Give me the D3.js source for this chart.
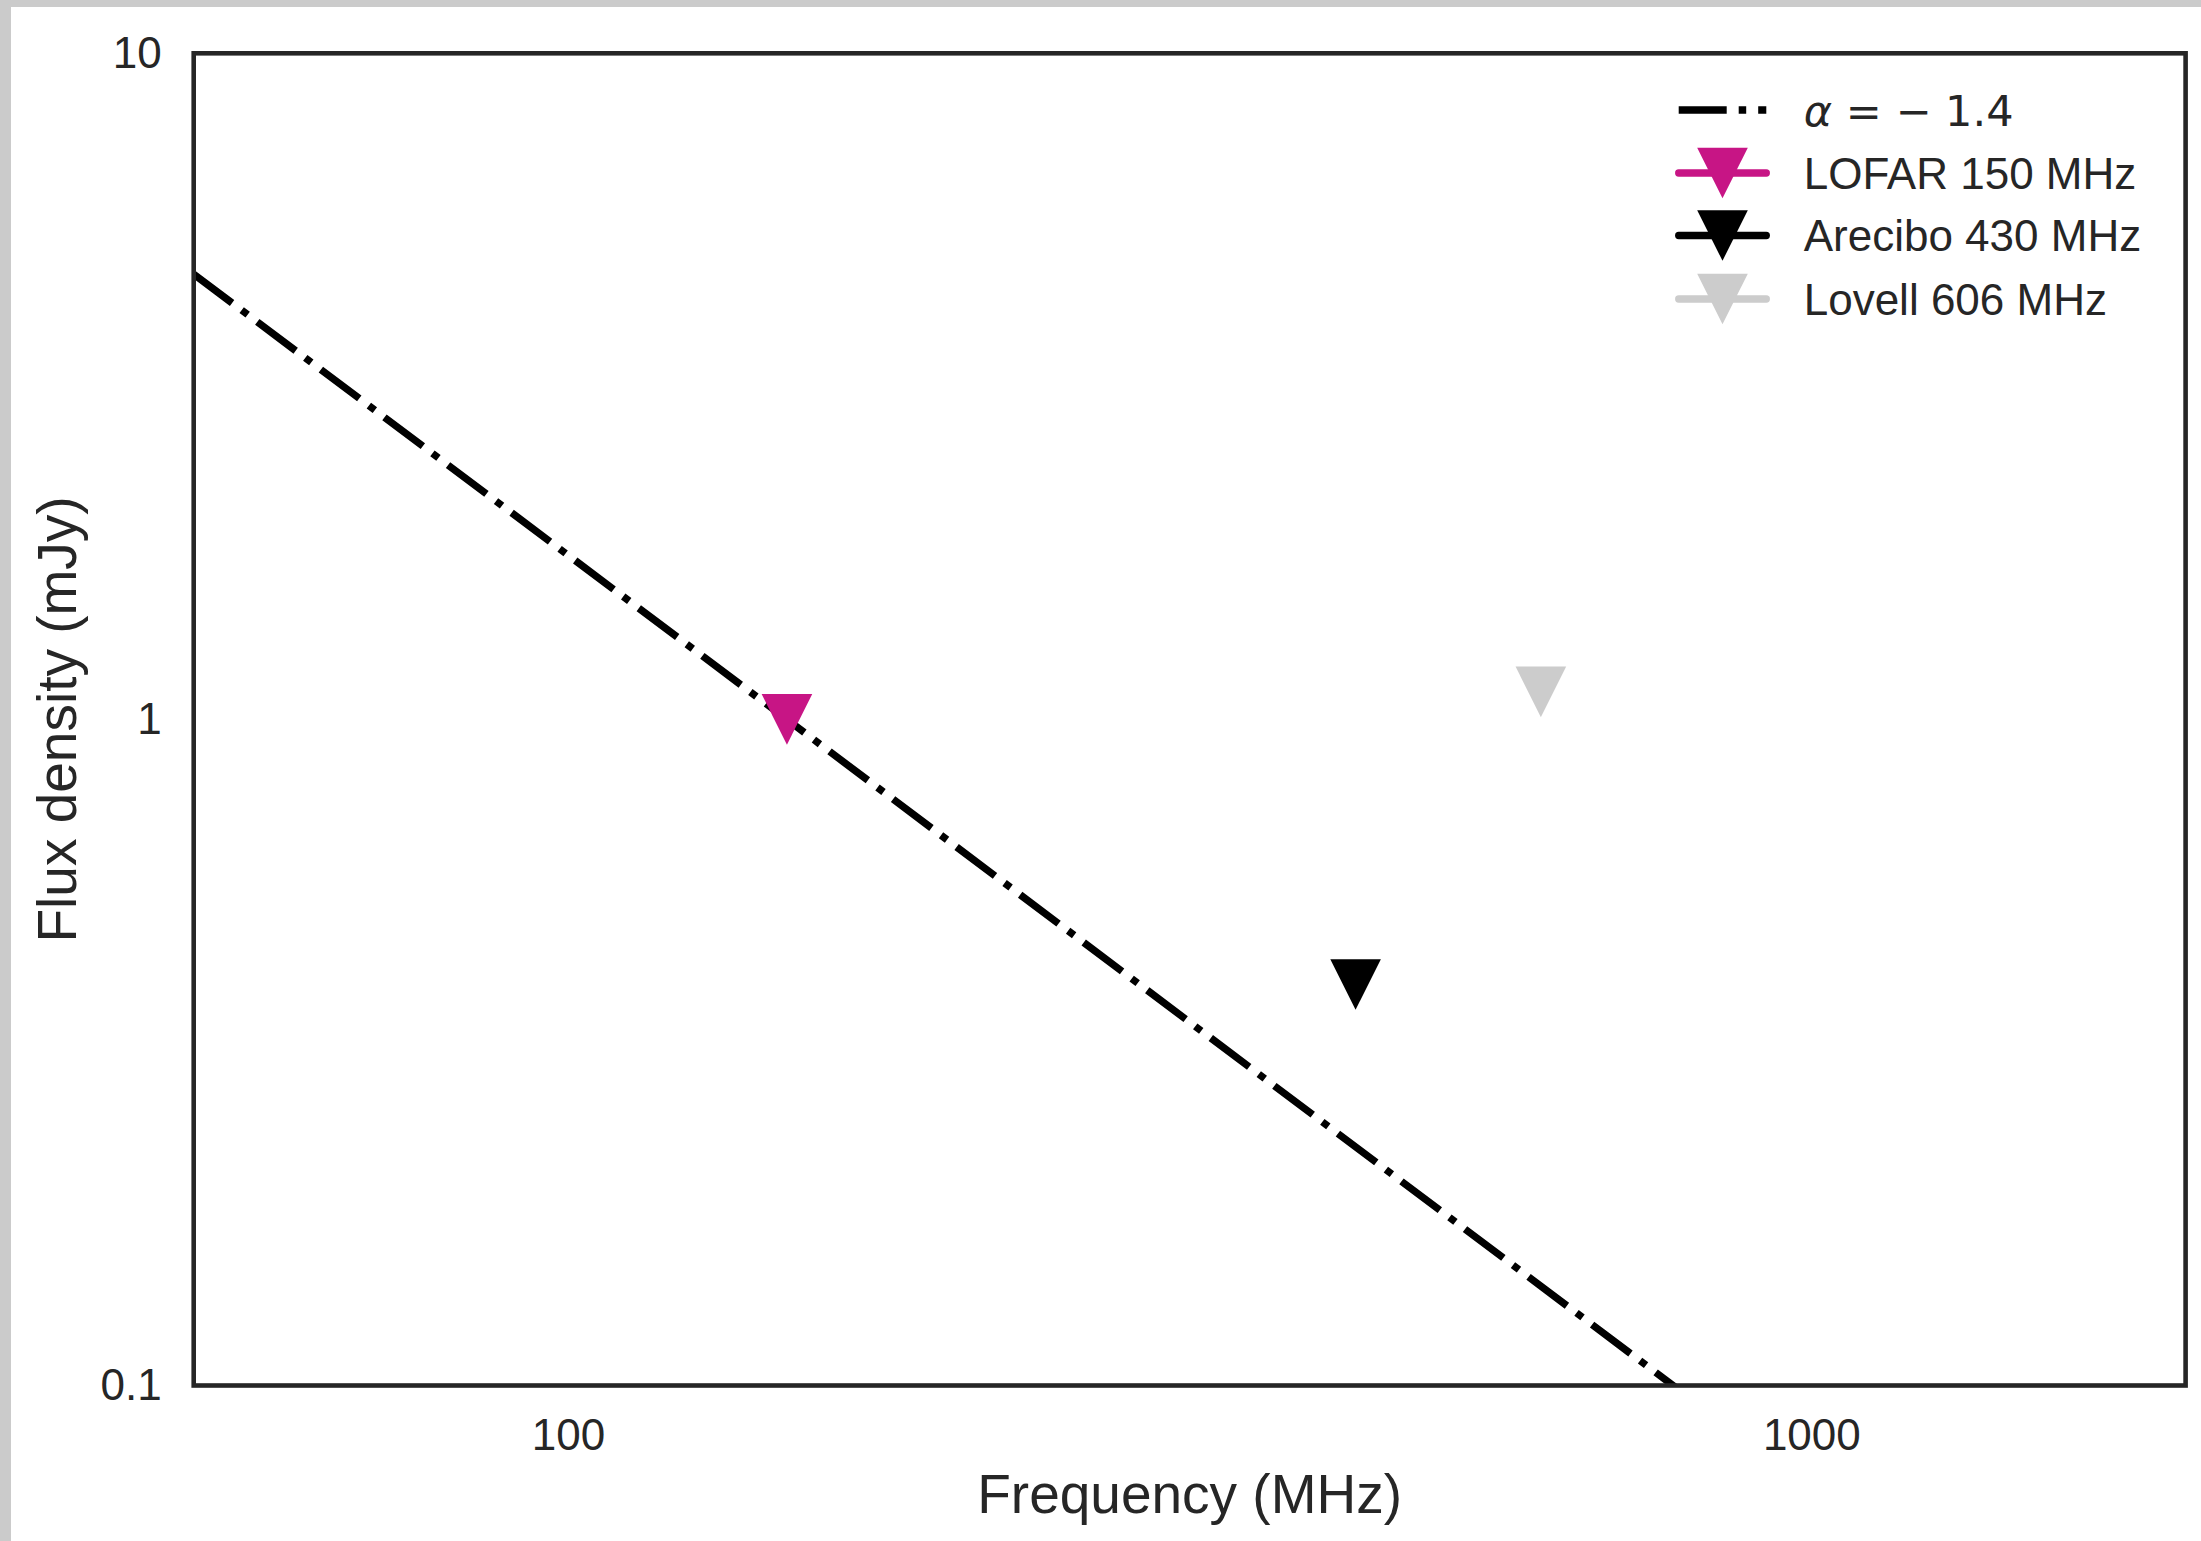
<!DOCTYPE html>
<html>
<head>
<meta charset="utf-8">
<script src="https://cdn.jsdelivr.net/npm/d3@7"></script>
<style>
  body { margin: 0; background: #fff; }
  svg { display: block; }
  text { font-family: "Liberation Sans", Arial, sans-serif; fill: #262626; }
</style>
</head>
<body>
<script>
// upper limits on flux density
var surveys = ["LOFAR 150 MHz", "Arecibo 430 MHz", "Lovell 606 MHz"];
var freqs = [150, 430, 606];          // MHz
var fluxes = [1.0, 0.4, 1.1];         // mJy
var colors = ["#c71585", "#000000", "#cccccc"];

// alpha = -1.4 power law, sampled points
var lineLabel = "= \u2212 1.4";
var lineFreq = [50, 150, 2000];
var lineFlux = [4.66, 1.0, 0.0264];

var xTicks = [100, 1000];
var xTickLabels = ["100", "1000"];
var yTicks = [0.1, 1, 10];
var yTickLabels = ["0.1", "1", "10"];

var width = 2201,
    height = 1541;

var margin = {top: 53.3, right: 15.4, bottom: 155.5, left: 193.7};
var w = width - margin.left - margin.right,
    h = height - margin.top - margin.bottom;

var svg = d3.select("body").append("svg")
    .attr("width", width)
    .attr("height", height);

// grey strip on top and left edge of the screenshot
svg.append("rect").attr("x", 0).attr("y", 0).attr("width", width).attr("height", 7).style("fill", "#cbcbcb");
svg.append("rect").attr("x", 0).attr("y", 0).attr("width", 11).attr("height", height).style("fill", "#cbcbcb");

var g = svg.append("g")
    .attr("transform", "translate(" + margin.left + "," + margin.top + ")");

var x = d3.scaleLog().domain([50, 2000]).range([0, w]);
var y = d3.scaleLog().domain([0.1, 10]).range([h, 0]);

var tickFs = 44;

var xAxis = g.append("g")
    .attr("transform", "translate(0," + h + ")")
    .call(d3.axisBottom(x)
      .tickValues(xTicks)
      .tickSize(0)
      .tickPadding(33)
      .tickFormat(function(d, i) { return xTickLabels[i]; }));

var yAxis = g.append("g")
    .call(d3.axisLeft(y)
      .tickValues(yTicks)
      .tickSize(0)
      .tickPadding(32)
      .tickFormat(function(d, i) { return yTickLabels[i]; }));

[xAxis, yAxis].forEach(function(a) {
  a.select(".domain").remove();
  a.selectAll("text")
    .style("font-family", "'Liberation Sans', Arial, sans-serif")
    .style("font-size", tickFs + "px")
    .style("fill", "#262626");
});

// clip for the power law line
g.append("clipPath").attr("id", "clip")
  .append("rect").attr("width", w).attr("height", h);

var line = d3.line()
    .x(function(d) { return x(d[0]); })
    .y(function(d) { return y(d[1]); });

g.append("path")
    .datum(d3.zip(lineFreq, lineFlux))
    .attr("clip-path", "url(#clip)")
    .attr("d", line)
    .style("fill", "none")
    .style("stroke", "#000")
    .style("stroke-width", 7.3)
    .style("stroke-dasharray", "48 12 7.5 12");

// downward triangles = upper limits
function triangle(cx, cy, r) {
  return "M" + cx + "," + (cy + r) + "L" + (cx - r) + "," + (cy - r) + "L" + (cx + r) + "," + (cy - r) + "Z";
}

g.selectAll(".limit")
    .data(freqs)
    .enter().append("path")
    .attr("class", "limit")
    .attr("d", function(d, i) { return triangle(x(d), y(fluxes[i]), 25.3); })
    .style("fill", function(d, i) { return colors[i]; });

// frame
g.append("rect")
    .attr("width", w)
    .attr("height", h)
    .style("fill", "none")
    .style("stroke", "#262626")
    .style("stroke-width", 4.6);

// axis labels
var labelFs = 55;
g.append("text")
    .attr("x", w / 2)
    .attr("y", h + 128)
    .attr("text-anchor", "middle")
    .style("font-size", labelFs + "px")
    .text("Frequency (MHz)");

g.append("text")
    .attr("transform", "translate(" + (76 - margin.left) + "," + (h / 2) + ") rotate(-90)")
    .attr("text-anchor", "middle")
    .style("font-size", labelFs + "px")
    .text("Flux density (mJy)");

// legend
var legFs = 44;
var leg = svg.append("g").attr("transform", "translate(1678.7,0)");
var rows = [110, 173, 235.5, 299];
var handleLen = 87.6;

leg.append("line")
    .attr("x1", 0).attr("x2", handleLen)
    .attr("y1", rows[0]).attr("y2", rows[0])
    .style("stroke", "#000")
    .style("stroke-width", 7.3)
    .style("stroke-dasharray", "48 12 7.5 12");

var aText = leg.append("text")
    .attr("x", 125)
    .attr("y", rows[0] + 0.36 * legFs)
    .style("font-family", "'DejaVu Sans', sans-serif")
    .style("font-size", "43px");
aText.append("tspan").style("font-style", "italic").text("\u03b1");
aText.append("tspan").text(" " + lineLabel);

surveys.forEach(function(s, i) {
  var ry = rows[i + 1];
  leg.append("line")
      .attr("x1", 0).attr("x2", handleLen)
      .attr("y1", ry).attr("y2", ry)
      .style("stroke", colors[i])
      .style("stroke-width", 7.3)
      .style("stroke-linecap", "round");
  leg.append("path")
      .attr("d", triangle(handleLen / 2, ry, 25.3))
      .style("fill", colors[i]);
  leg.append("text")
      .attr("x", 125)
      .attr("y", ry + 0.36 * legFs)
      .style("font-size", legFs + "px")
      .text(s);
});
</script>
</body>
</html>
